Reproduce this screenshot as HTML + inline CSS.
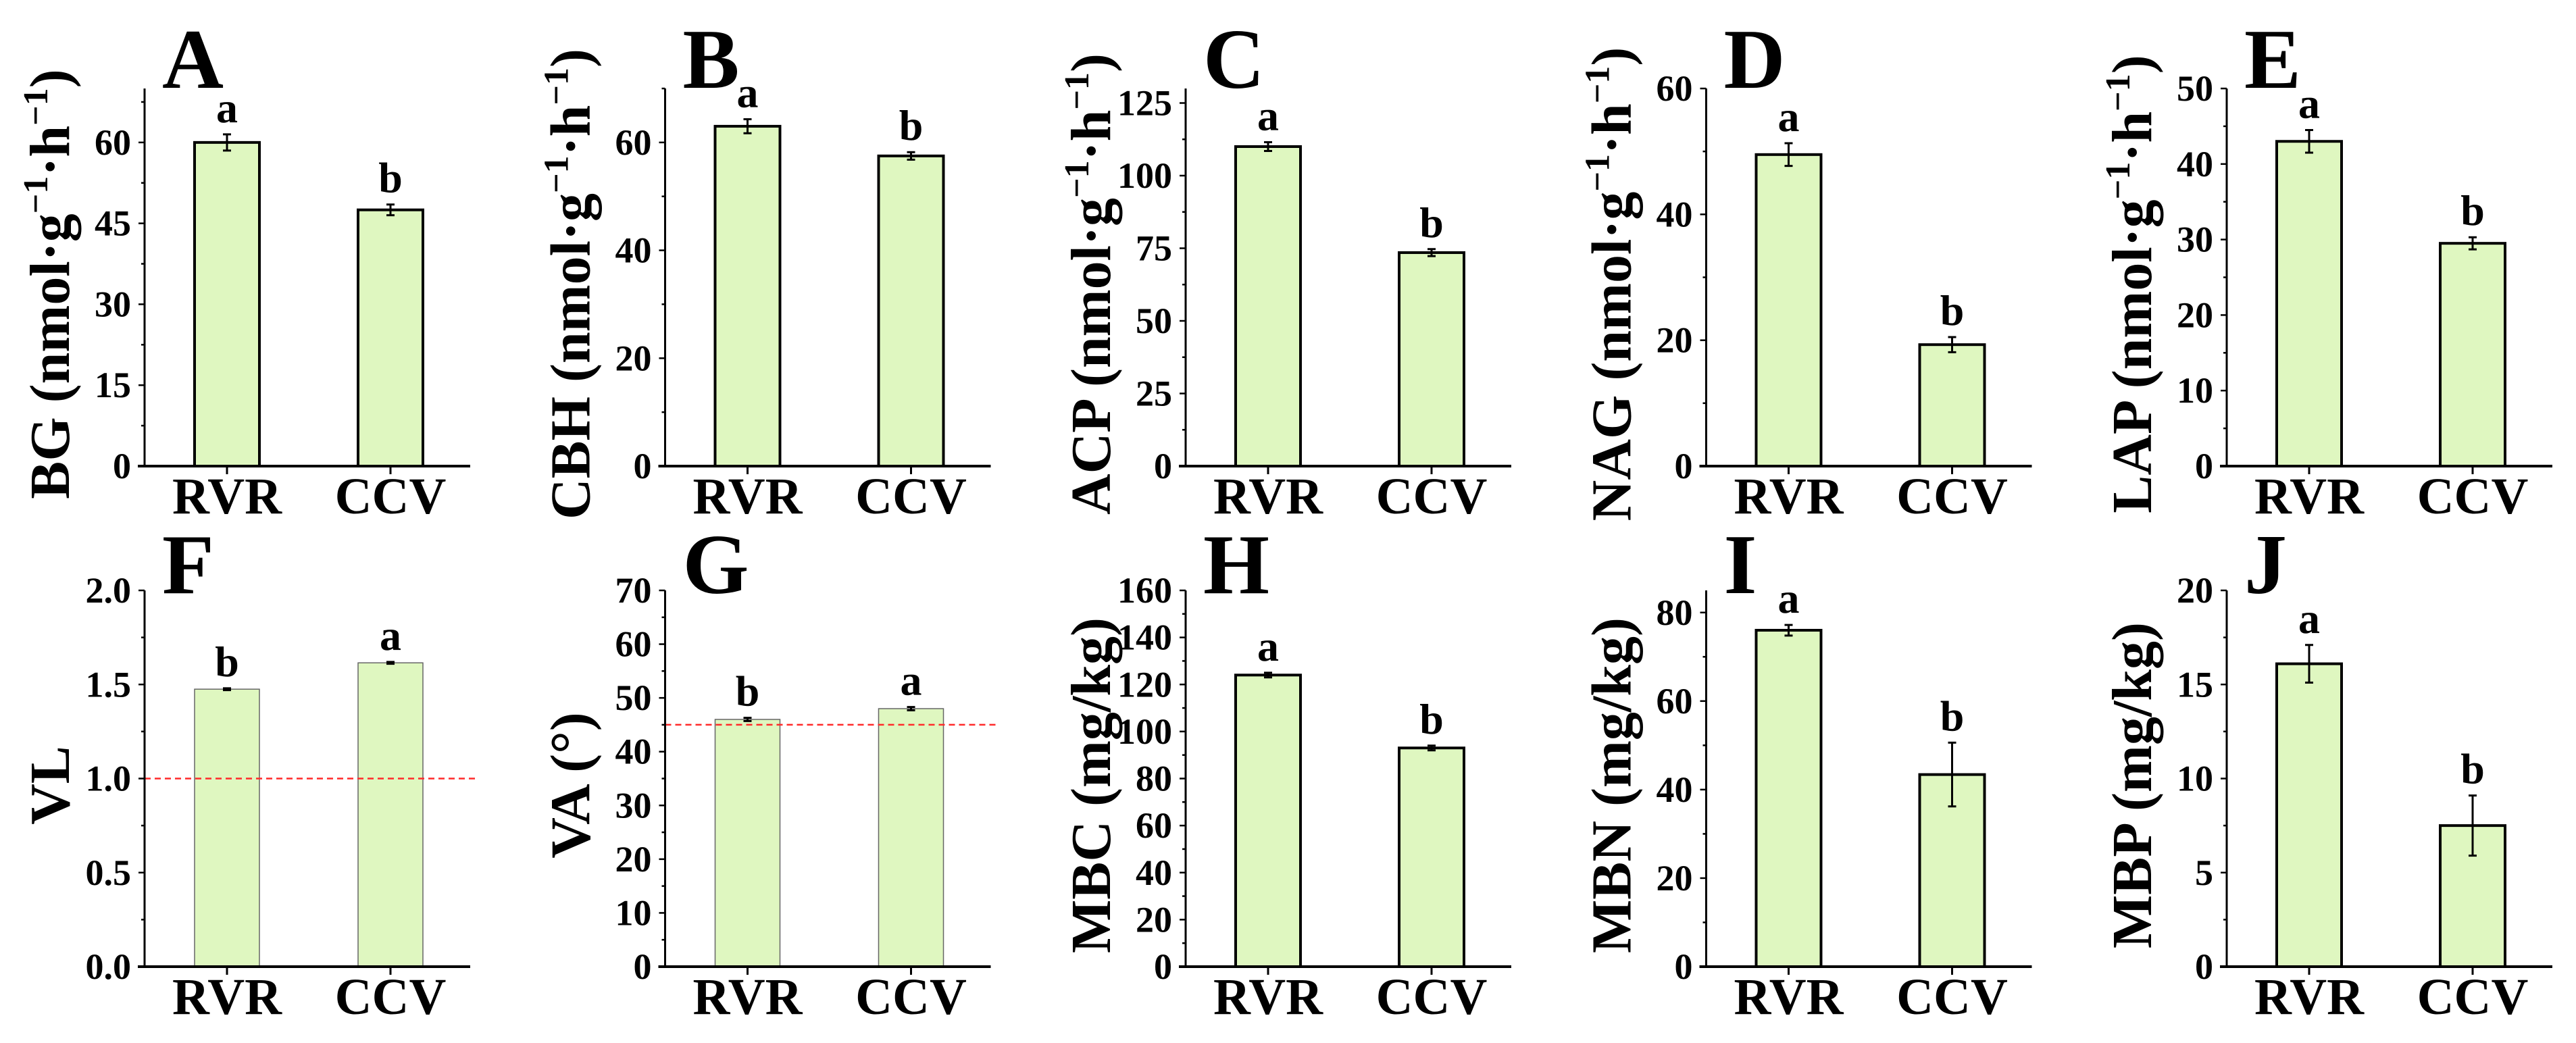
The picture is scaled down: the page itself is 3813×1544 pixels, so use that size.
<!DOCTYPE html>
<html><head><meta charset="utf-8"><style>
html,body{margin:0;padding:0;background:#fff;}
svg{display:block;font-family:"Liberation Serif","Times New Roman",serif;font-weight:bold;}
</style></head><body>
<svg id="chart" width="3813" height="1544" viewBox="0 0 3813 1544" xmlns="http://www.w3.org/2000/svg"></svg>
<script>
const categories = ["RVR", "CCV"];
const panelLetters = ["A","B","C","D","E","F","G","H","I","J"];
const valuesRVR = [60, 63, 110, 49.5, 43, 1.475, 46, 124, 76, 16.1];
const valuesCCV = [47.5, 57.5, 73.5, 19.3, 29.5, 1.615, 48, 93, 43.4, 7.5];
const errorsRVR = [1.5, 1.3, 1.5, 1.8, 1.5, 0.005, 0.3, 1, 1.2, 1.0];
const errorsCCV = [1.0, 0.7, 1.2, 1.2, 0.8, 0.005, 0.3, 1, 7.2, 1.6];
const sigRVR = ["a","a","a","a","a","b","b","a","a","a"];
const sigCCV = ["b","b","b","b","b","a","a","b","b","b"];
const axisMax = [70, 70, 130, 60, 50, 2.0, 70, 160, 85, 20];
const majorStep = [15, 20, 25, 20, 10, 0.5, 10, 20, 20, 5];
const tickDecimals = [0,0,0,0,0,1,0,0,0,0];
const refLines = [null,null,null,null,null,1.0,45,null,null,null];
const titleMain = ["BG","CBH","ACP","NAG","LAP","VL","VA (°)","MBC (mg/kg)","MBN (mg/kg)","MBP (mg/kg)"];
const unitEnzyme = [true,true,true,true,true,false,false,false,false,false];

const NS = "http://www.w3.org/2000/svg";
const svg = document.getElementById("chart");
function mk(tag, attrs, parent){
  const e = document.createElementNS(NS, tag);
  for (const k in attrs) e.setAttribute(k, attrs[k]);
  (parent||svg).appendChild(e);
  return e;
}
const PANEL_W = 770.5, AX0 = 214, PLOT_W = 482;
const ROW_TOP = [131, 874], ROW_BOT = [690, 1431];

for (let p = 0; p < 10; p++){
  const row = p < 5 ? 0 : 1;
  const col = p % 5;
  const ax = AX0 + col*PANEL_W;
  const yb = ROW_BOT[row], yt = ROW_TOP[row];
  const yScale = v => yb - (v/axisMax[p])*(yb-yt);
  const xScale = i => ax + 122 + i*242;
  const thin = (p === 5 || p === 6);
  const g = mk("g", {});
  
  

  const vals = [valuesRVR[p], valuesCCV[p]];
  const errs = [errorsRVR[p], errorsCCV[p]];
  const sigs = [sigRVR[p], sigCCV[p]];
  for (let i = 0; i < 2; i++){
    const cx = xScale(i), top = yScale(vals[i]);
    const bar = mk("rect", {x: cx-48, y: top, width: 96, height: yb-top, fill: "#dff7c0",
      stroke: thin ? "#666" : "#000", "stroke-width": thin ? 1.5 : 4}, g);
    
    
    const eTop = yScale(vals[i]+errs[i]), eBot = yScale(vals[i]-errs[i]);
    const eb = mk("path", {d: `M${cx},${eTop}V${eBot}M${cx-6},${eTop}H${cx+6}M${cx-6},${eBot}H${cx+6}`,
      stroke: "#000", "stroke-width": 3, fill: "none"}, g);
    
    
    const s = mk("text", {x: cx, y: eTop-18, "text-anchor": "middle", "font-size": 64}, g);
    s.textContent = sigs[i];
    
    
    const xl = mk("text", {x: cx, y: yb+70, "text-anchor": "middle", "font-size": 76}, g);
    xl.textContent = categories[i];
    
    
    mk("line", {x1: cx, x2: cx, y1: yb, y2: yb+12, stroke: "#000", "stroke-width": 3}, g);
  }
  if (refLines[p] !== null){
    const ry = yScale(refLines[p]);
    const rl = mk("line", {x1: ax, x2: ax+495, y1: ry, y2: ry, stroke: "#ff2a2a", "stroke-width": 2.5, "stroke-dasharray": "9,6"}, g);
    
    
  }
  const ya = mk("line", {x1: ax, x2: ax, y1: yt, y2: yb+2, stroke: "#000", "stroke-width": 3}, g);
  
  
  const xa = mk("line", {x1: ax-10, x2: ax+PLOT_W, y1: yb, y2: yb, stroke: "#000", "stroke-width": 4}, g);
  
  
  const st = majorStep[p];
  for (let k = 0; k*st/2 <= axisMax[p] + 1e-9; k++){
    const v = k*st/2, ty = yScale(v);
    const major = (k % 2 === 0);
    mk("line", {x1: ax - (major ? 9 : 5), x2: ax, y1: ty, y2: ty, stroke: "#000", "stroke-width": 2.5}, g);
    if (major){
      const tl = mk("text", {x: ax-20, y: ty+18, "text-anchor": "end", "font-size": 54}, g);
      tl.textContent = v.toFixed(tickDecimals[p]);
      
      
    }
  }
  const tx = ax - 112, ty = (yt+yb)/2 + 10;
  const tt = mk("text", {x: tx, y: ty, "text-anchor": "middle", "font-size": 84,
    transform: `rotate(-90 ${tx} ${ty})`}, g);
  
  
  if (unitEnzyme[p]){
    tt.appendChild(document.createTextNode(titleMain[p] + " (nmol·g"));
    const s1 = mk("tspan", {"font-size": 52, dy: -32}, tt); s1.textContent = "−1";
    const s2 = mk("tspan", {dy: 32}, tt); s2.textContent = "·h";
    const s3 = mk("tspan", {"font-size": 52, dy: -32}, tt); s3.textContent = "−1";
    const s4 = mk("tspan", {dy: 32}, tt); s4.textContent = ")";
  } else {
    tt.textContent = titleMain[p];
  }
  const pl = mk("text", {x: ax+26, y: row === 0 ? 130 : 878, "font-size": 126}, g);
  pl.textContent = panelLetters[p];
  
  
}
</script>
</body></html>
